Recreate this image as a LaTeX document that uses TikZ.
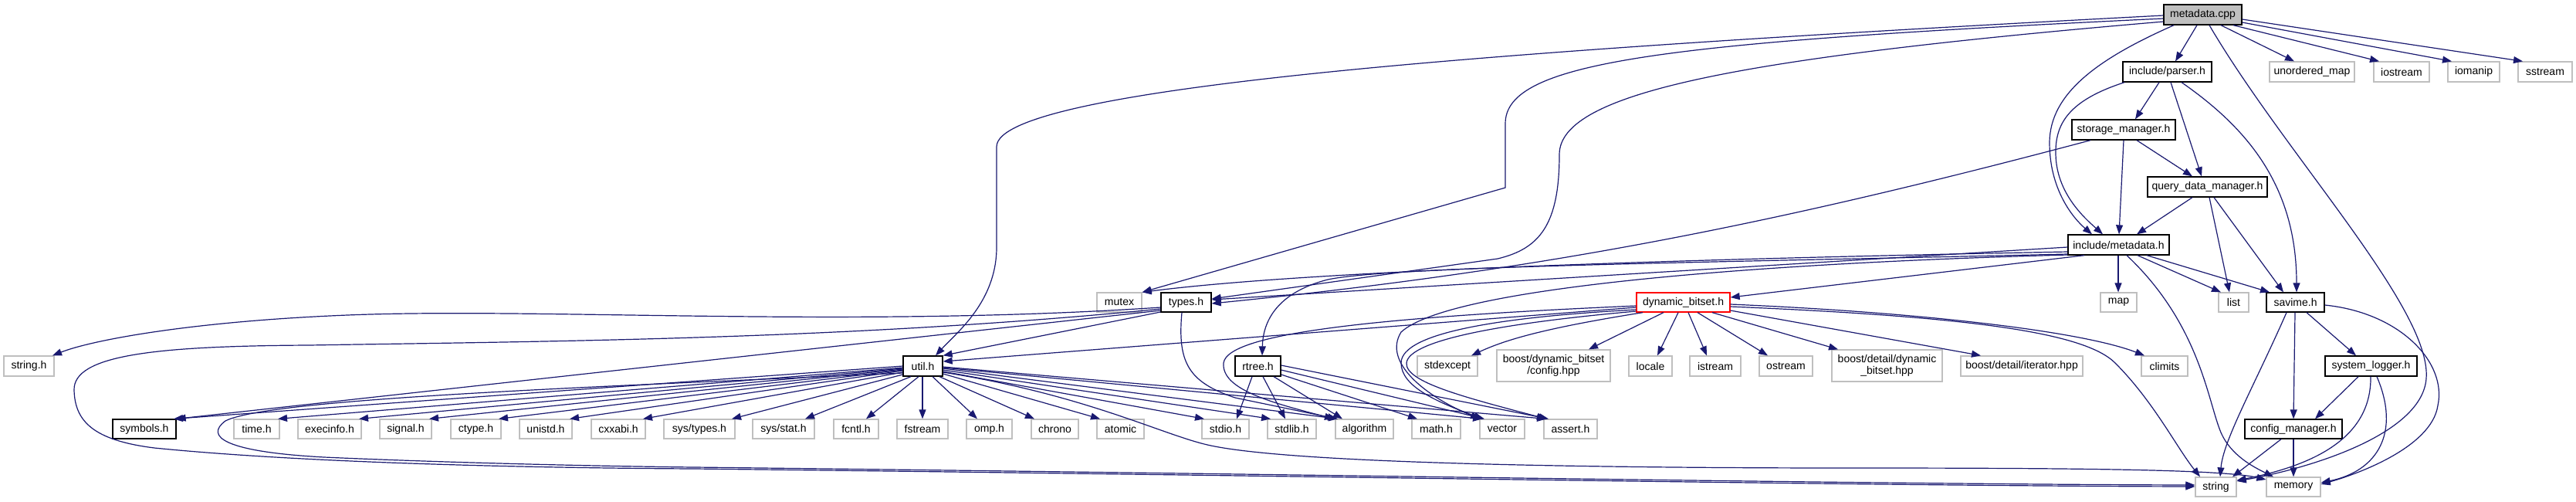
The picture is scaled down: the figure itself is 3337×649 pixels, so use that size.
\documentclass[tikz,border=0pt]{standalone}
\usepackage{fontspec}
\setmainfont{Liberation Sans}
\usetikzlibrary{arrows.meta}
\definecolor{edgec}{HTML}{191970}
\definecolor{grayb}{HTML}{BFBFBF}
\definecolor{fillg}{HTML}{BFBFBF}
\tikzset{
  basebox/.style={line width=1.3pt, fill=white, inner sep=0pt, align=center,
    font=\fontsize{14}{15}\selectfont},
  doc/.style={basebox, draw=black},
  ext/.style={basebox, draw=grayb},
  redb/.style={basebox, draw=red},
  edge/.style={draw=edgec, line width=1.2pt, -{Triangle[length=12pt,width=9pt]}}
}
\newcommand\nbox[7]{\node[#1, minimum width={(#5-#3)*1pt}, minimum height={(#6-#4)*1pt}] (#2) at ({(#3+#5)/2},{(#4+#6)/2}) {#7};}
\begin{document}
\begin{tikzpicture}[x=1pt,y=-1pt]
\path[fill=white, use as bounding box] (0,0) rectangle (3337,649);
% ---- nodes
\nbox{doc, fill=fillg}{metacpp}{2803}{6}{2904}{32}{metadata.cpp}
\nbox{doc}{parser}{2750}{80}{2865}{106}{include/parser.h}
\nbox{ext}{umap}{2940}{80}{3050}{106}{unordered\_map}
\nbox{ext}{iostream}{3075}{80}{3147}{106}{iostream}
\nbox{ext}{iomanip}{3171}{80}{3238}{106}{iomanip}
\nbox{ext}{sstream}{3262}{80}{3332}{106}{sstream}
\nbox{doc}{storage}{2684}{155}{2818}{181}{storage\_manager.h}
\nbox{doc}{qdm}{2782}{229}{2937}{255}{query\_data\_manager.h}
\nbox{doc}{metah}{2679}{304}{2810}{330}{include/metadata.h}
\nbox{ext}{mutex}{1421}{379}{1479}{404}{mutex}
\nbox{doc}{types}{1504}{379}{1569}{404}{types.h}
\nbox{redb}{dynbit}{2120}{379}{2241}{404}{dynamic\_bitset.h}
\nbox{ext}{map}{2721}{379}{2768}{404}{map}
\nbox{ext}{list}{2874}{379}{2913}{404}{list}
\nbox{doc}{savime}{2936}{379}{3011}{404}{savime.h}
\nbox{ext}{stringh}{5}{461}{70}{487}{string.h}
\nbox{doc}{util}{1170}{461}{1221}{487}{util.h}
\nbox{doc}{rtree}{1600}{461}{1659}{487}{rtree.h}
\nbox{ext}{stdexcept}{1836}{461}{1914}{487}{stdexcept}
\nbox{ext}{bcfg}{1939}{453}{2086}{494}{boost/dynamic\_bitset\\/config.hpp}
\nbox{ext}{locale}{2110}{461}{2166}{487}{locale}
\nbox{ext}{istream}{2189}{461}{2255}{487}{istream}
\nbox{ext}{ostream}{2279}{461}{2348}{487}{ostream}
\nbox{ext}{bdyn}{2373}{453}{2516}{494}{boost/detail/dynamic\\\_bitset.hpp}
\nbox{ext}{biter}{2540}{461}{2698}{487}{boost/detail/iterator.hpp}
\nbox{ext}{climits}{2774}{461}{2834}{487}{climits}
\nbox{doc}{syslog}{3012}{461}{3131}{487}{system\_logger.h}
\nbox{doc}{symbols}{146}{543}{228}{568}{symbols.h}
\nbox{ext}{time}{303}{543}{362}{568}{time.h}
\nbox{ext}{execinfo}{386}{543}{468}{568}{execinfo.h}
\nbox{ext}{signal}{492}{543}{559}{568}{signal.h}
\nbox{ext}{ctype}{584}{543}{649}{568}{ctype.h}
\nbox{ext}{unistd}{673}{543}{741}{568}{unistd.h}
\nbox{ext}{cxxabi}{766}{543}{836}{568}{cxxabi.h}
\nbox{ext}{systypes}{860}{543}{952}{568}{sys/types.h}
\nbox{ext}{sysstat}{975}{543}{1055}{568}{sys/stat.h}
\nbox{ext}{fcntl}{1080}{543}{1138}{568}{fcntl.h}
\nbox{ext}{fstream}{1162}{543}{1228}{568}{fstream}
\nbox{ext}{omp}{1252}{543}{1311}{568}{omp.h}
\nbox{ext}{chrono}{1336}{543}{1397}{568}{chrono}
\nbox{ext}{atomic}{1421}{543}{1482}{568}{atomic}
\nbox{ext}{stdio}{1557}{543}{1618}{568}{stdio.h}
\nbox{ext}{stdlib}{1642}{543}{1705}{568}{stdlib.h}
\nbox{ext}{algorithm}{1730}{543}{1805}{568}{algorithm}
\nbox{ext}{math}{1829}{543}{1892}{568}{math.h}
\nbox{ext}{vector}{1917}{543}{1975}{568}{vector}
\nbox{ext}{assert}{2000}{543}{2069}{568}{assert.h}
\nbox{doc}{cfgmgr}{2908}{543}{3034}{568}{config\_manager.h}
\nbox{ext}{string}{2844}{618}{2897}{643}{string}
\nbox{ext}{memory}{2936}{618}{3006}{643}{memory}
% ---- edges: metadata.cpp
\draw[edge] (2846,0 |- metacpp.south) -- (2818,0 |- parser.north);
\draw[edge] (2877,0 |- metacpp.south) -- (2972,0 |- umap.north);
\draw[edge] (2893,0 |- metacpp.south) -- (3082,0 |- iostream.north);
\draw[edge] (metacpp.east |- 0,29) -- (3176,0 |- iomanip.north);
\draw[edge] (metacpp.east |- 0,25) -- (3268,0 |- sstream.north);
\draw[edge] (2862,0 |- metacpp.south) .. controls (2960,200) and (3150,400) .. (3143,490) .. controls (3138,560) and (3000,605) .. (string.east |- 0,623);
\draw[edge] (2816,0 |- metacpp.south) .. controls (2720,75) and (2655,120) .. (2655,185) .. controls (2655,245) and (2685,282) .. (2710,0 |- metah.north);
\draw[edge] (metacpp.west |- 0,20) .. controls (2000,62) and (1291,110) .. (1291,190) -- (1291,320) .. controls (1291,390) and (1240,430) .. (1212,0 |- util.north);
\draw[edge] (metacpp.west |- 0,24) .. controls (2150,55) and (1950,80) .. (1950,160) -- (1950,243) -- (mutex.north east);
\draw[edge] (metacpp.west |- 0,28) .. controls (2250,75) and (2020,120) .. (2020,200) .. controls (2020,290) and (1995,322) .. (1940,335) -- (types.east |- 0,387);
% parser
\draw[edge] (2797,0 |- parser.south) -- (2766,0 |- storage.north);
\draw[edge] (2812,0 |- parser.south) -- (2852,0 |- qdm.north);
\draw[edge] (2752,0 |- parser.south) .. controls (2680,130) and (2662,160) .. (2663,200) .. controls (2664,250) and (2700,282) .. (2724,0 |- metah.north);
\draw[edge] (2826,0 |- parser.south) .. controls (2910,165) and (2975,240) .. (2975,0 |- savime.north);
% storage_manager
\draw[edge] (2708,0 |- storage.south) .. controls (2300,290) and (2000,350) .. (types.east |- 0,393);
\draw[edge] (2751,0 |- storage.south) -- (2745,0 |- metah.north);
\draw[edge] (2768,0 |- storage.south) -- (2840,0 |- qdm.north);
% query_data_manager
\draw[edge] (2840,0 |- qdm.south) -- (2768,0 |- metah.north);
\draw[edge] (2862,0 |- qdm.south) -- (2888,0 |- list.north);
\draw[edge] (2868,0 |- qdm.south) -- (2958,0 |- savime.north);
% include/metadata.h
\draw[edge] (2744,0 |- metah.south) -- (2744,0 |- map.north);
\draw[edge] (2769,0 |- metah.south) -- (2877,0 |- list.north);
\draw[edge] (2781,0 |- metah.south) -- (2940,0 |- savime.north);
\draw[edge] (2755,0 |- metah.south) .. controls (2850,420) and (2860,520) .. (2877,560) .. controls (2890,590) and (2920,605) .. (2945,0 |- memory.north);
\draw[edge] (metah.west |- 0,320) -- (types.east |- 0,388);
\draw[edge] (metah.west |- 0,326) .. controls (2200,335) and (1700,350) .. (mutex.north east);
\draw[edge] (2700,0 |- metah.south) -- (dynbit.east |- 0,385);
\draw[edge] (metah.west |- 0,329) .. controls (2200,340) and (1800,345) .. (1720,362) .. controls (1650,380) and (1636,420) .. (1635,0 |- rtree.north);
\draw[edge] (metah.west |- 0,330) .. controls (2300,340) and (1880,370) .. (1815,430) .. controls (1790,470) and (1850,515) .. (1917,0 |- vector.north);
% types.h
\draw[edge] (types.west |- 0,398) .. controls (1100,425) and (700,398) .. (450,408) .. controls (250,416) and (120,440) .. (68,0 |- stringh.north);
\draw[edge] (types.west |- 0,402) -- (symbols.north east);
\draw[edge] (types.west |- 0,400) .. controls (1100,440) and (700,442) .. (400,447) .. controls (200,448) and (95,460) .. (96,505) .. controls (97,545) and (120,570) .. (200,580) .. controls (400,600) and (700,606) .. (900,607) .. controls (1700,616) and (2400,629) .. (string.west |- 0,630);
\draw[edge] (types.west |- 0,404) -- (util.north east);
\draw[edge] (1531,0 |- types.south) .. controls (1525,470) and (1540,495) .. (1600,515) -- (1732,0 |- algorithm.north);
% util.h
\draw[edge] (util.west |- 0,474) -- (225,0 |- symbols.north);
\draw[edge] (util.west |- 0,476) -- (360,0 |- time.north);
\draw[edge] (util.west |- 0,477) -- (465,0 |- execinfo.north);
\draw[edge] (util.west |- 0,478) -- (556,0 |- signal.north);
\draw[edge] (util.west |- 0,479) -- (646,0 |- ctype.north);
\draw[edge] (util.west |- 0,480) -- (738,0 |- unistd.north);
\draw[edge] (util.west |- 0,482) -- (833,0 |- cxxabi.north);
\draw[edge] (util.west |- 0,485) -- (948,0 |- systypes.north);
\draw[edge] (1180,0 |- util.south) -- (1043,0 |- sysstat.north);
\draw[edge] (1190,0 |- util.south) -- (1122,0 |- fcntl.north);
\draw[edge] (1195,0 |- util.south) -- (1195,0 |- fstream.north);
\draw[edge] (1208,0 |- util.south) -- (1266,0 |- omp.north);
\draw[edge] (1217,0 |- util.south) -- (1340,0 |- chrono.north);
\draw[edge] (util.east |- 0,484) -- (1425,0 |- atomic.north);
\draw[edge] (util.east |- 0,481) -- (1560,0 |- stdio.north);
\draw[edge] (util.east |- 0,479) -- (1646,0 |- stdlib.north);
\draw[edge] (util.east |- 0,477) -- (1733,0 |- algorithm.north);
\draw[edge] (util.east |- 0,476) -- (1920,0 |- vector.north);
\draw[edge] (util.east |- 0,475) -- (2003,0 |- assert.north);
\draw[edge] (util.west |- 0,483) .. controls (800,500) and (350,515) .. (292,545) .. controls (265,565) and (290,585) .. (420,592) .. controls (600,600) and (800,604) .. (900,605) .. controls (1700,614) and (2400,627) .. (string.west |- 0,628);
\draw[edge] (util.east |- 0,482) .. controls (1400,510) and (1500,560) .. (1560,575) .. controls (1650,598) and (2000,606) .. (2400,606) .. controls (2700,606) and (2880,608) .. (memory.west |- 0,621);
% dynamic_bitset.h
\draw[edge] (dynbit.west |- 0,398) -- (util.east |- 0,468);
\draw[edge] (dynbit.west |- 0,396) .. controls (1800,410) and (1590,430) .. (1585,470) .. controls (1582,505) and (1650,522) .. (1728,0 |- algorithm.north);
\draw[edge] (2128,0 |- dynbit.south) .. controls (2000,425) and (1950,440) .. (1906,0 |- stdexcept.north);
\draw[edge] (2155,0 |- dynbit.south) -- (2058,0 |- bcfg.north);
\draw[edge] (2174,0 |- dynbit.south) -- (2147,0 |- locale.north);
\draw[edge] (2187,0 |- dynbit.south) -- (2211,0 |- istream.north);
\draw[edge] (2199,0 |- dynbit.south) -- (2290,0 |- ostream.north);
\draw[edge] (2218,0 |- dynbit.south) -- (2381,0 |- bdyn.north);
\draw[edge] (dynbit.east |- 0,402) -- (2566,0 |- biter.north);
\draw[edge] (dynbit.east |- 0,394) .. controls (2500,405) and (2700,430) .. (2778,0 |- climits.north);
\draw[edge] (dynbit.east |- 0,397) .. controls (2550,410) and (2700,430) .. (2740,470) .. controls (2790,520) and (2820,580) .. (2850,0 |- string.north);
\draw[edge] (dynbit.west |- 0,401) .. controls (1950,410) and (1815,430) .. (1815,470) .. controls (1815,500) and (1860,520) .. (1921,0 |- vector.north);
\draw[edge] (dynbit.west |- 0,403) .. controls (1950,418) and (1825,440) .. (1822,470) .. controls (1820,495) and (1900,515) .. (2003,0 |- assert.north);
% rtree.h
\draw[edge] (1622,0 |- rtree.south) -- (1602,0 |- stdio.north);
\draw[edge] (1636,0 |- rtree.south) -- (1665,0 |- stdlib.north);
\draw[edge] (1650,0 |- rtree.south) -- (1739,0 |- algorithm.north);
\draw[edge] (rtree.east |- 0,485) -- (1836,0 |- math.north);
\draw[edge] (rtree.east |- 0,479) -- (1923,0 |- vector.north);
\draw[edge] (rtree.east |- 0,473) -- (2006,0 |- assert.north);
% savime.h
\draw[edge] (2962,0 |- savime.south) .. controls (2920,500) and (2880,570) .. (2876,0 |- string.north);
\draw[edge] (2973,0 |- savime.south) -- (2971,0 |- cfgmgr.north);
\draw[edge] (2988,0 |- savime.south) -- (3052,0 |- syslog.north);
\draw[edge] (savime.east |- 0,395) .. controls (3110,405) and (3170,470) .. (3158,525) .. controls (3150,580) and (3050,615) .. (memory.east |- 0,627);
% system_logger.h
\draw[edge] (3055,0 |- syslog.south) -- (2999,0 |- cfgmgr.north);
\draw[edge] (3071,0 |- syslog.south) .. controls (3072,560) and (3010,600) .. (string.east |- 0,622);
\draw[edge] (3079,0 |- syslog.south) .. controls (3110,560) and (3080,610) .. (memory.east |- 0,625);
% config_manager.h
\draw[edge] (2955,0 |- cfgmgr.south) -- (2892,0 |- string.north);
\draw[edge] (2971,0 |- cfgmgr.south) -- (2971,0 |- memory.north);
\end{tikzpicture}
\end{document}
